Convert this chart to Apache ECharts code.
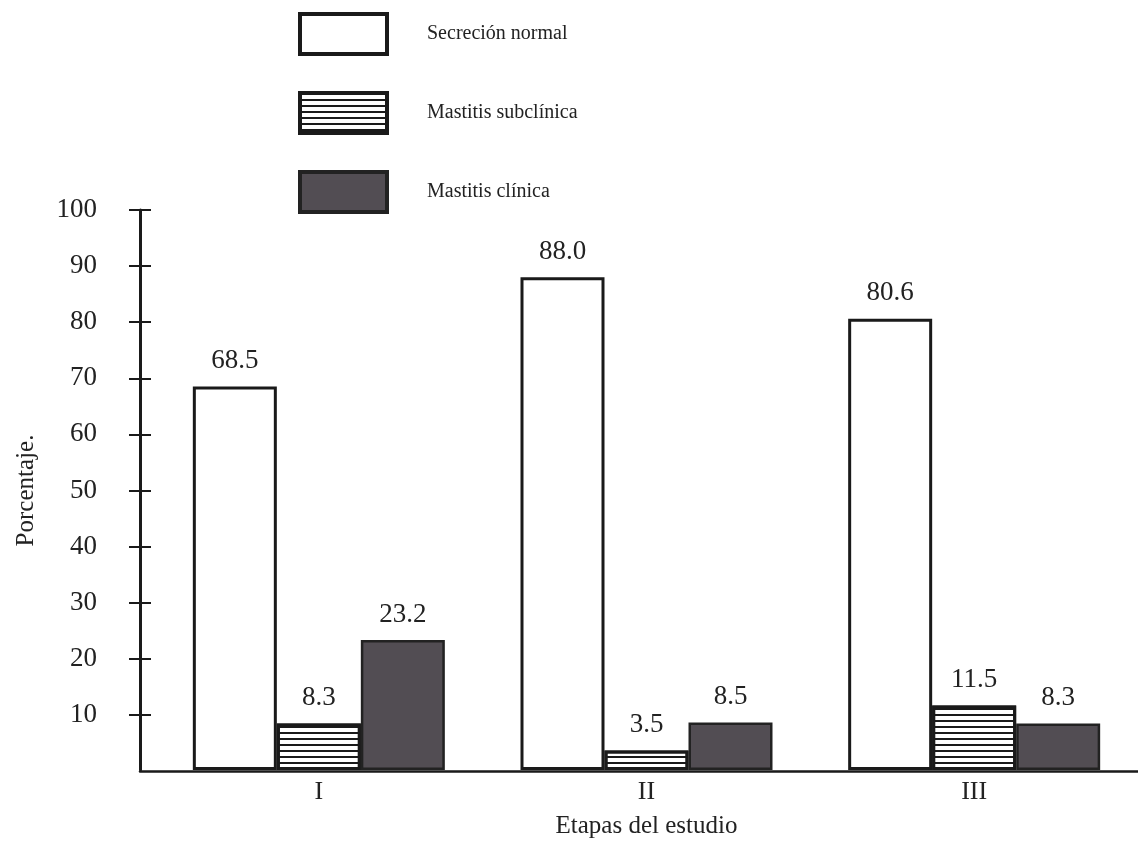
<!DOCTYPE html>
<html><head><meta charset="utf-8">
<script src="https://cdn.jsdelivr.net/npm/echarts@6/dist/echarts.min.js"></script>
<style>html,body{margin:0;padding:0;background:#fff}#c{width:1138px;height:844px}</style>
</head><body><div id="c"></div>
<script>
const categories = ['I', 'II', 'III'];
const normal = [68.5, 88.0, 80.6];
const subclinica = [8.3, 3.5, 11.5];
const clinica = [23.2, 8.5, 8.3];
const yTicks = [0, 10, 20, 30, 40, 50, 60, 70, 80, 90, 100];
const seriesNames = ['Secreción normal', 'Mastitis subclínica', 'Mastitis clínica'];

const FONT = 'Liberation Serif';
const INK = '#1a1a1a';
const chart = echarts.init(document.getElementById('c'));
const label = {show: true, position: 'top', distance: 12, fontFamily: FONT, fontSize: 27, color: '#222', formatter: p => p.value.toFixed(1)};
const yMin = yTicks[0], yMax = yTicks[yTicks.length - 1];
chart.setOption({
  animation: false,
  backgroundColor: '#fff',
  textStyle: {fontFamily: FONT},
  legend: {
    orient: 'vertical', left: 298, top: 12, padding: 0, itemWidth: 87, itemHeight: 40, itemGap: 35, icon: 'rect',
    itemStyle: {borderWidth: 4},
    textStyle: {fontFamily: FONT, fontSize: 20, color: '#222', padding: [0, 0, 0, 35]},
    data: seriesNames
  },
  grid: [
    {left: 155, right: -16, top: 210, bottom: 73},
    {left: 140, right: 0, top: 210, bottom: 73}
  ],
  xAxis: [{
    gridIndex: 0, type: 'category', data: categories,
    name: 'Etapas del estudio', nameLocation: 'middle', nameGap: 44,
    nameTextStyle: {fontFamily: FONT, fontSize: 25, color: '#222'},
    axisLine: {show: false},
    axisTick: {show: false},
    axisLabel: {fontFamily: FONT, fontSize: 26, color: '#222', margin: 9}
  }, {
    gridIndex: 1, type: 'value', min: 0, max: 1,
    axisLine: {show: true, lineStyle: {color: INK, width: 2.5}},
    axisTick: {show: false}, axisLabel: {show: false}, splitLine: {show: false}
  }],
  yAxis: [{
    gridIndex: 0, type: 'value', min: yMin, max: yMax, interval: 10, offset: 15,
    axisLine: {show: true, lineStyle: {color: INK, width: 3}},
    axisTick: {show: false}, axisLabel: {show: false}, splitLine: {show: false}
  }, {
    gridIndex: 1, type: 'value', min: yMin, max: yMax, interval: 10, offset: -11,
    name: 'Porcentaje.', nameLocation: 'middle', nameGap: 112, nameRotate: 90,
    nameTextStyle: {fontFamily: FONT, fontSize: 25, color: '#222'},
    axisLine: {show: false},
    axisTick: {show: true, length: 22, lineStyle: {color: INK, width: 2}, customValues: yTicks.slice(1)},
    splitLine: {show: false},
    axisLabel: {fontFamily: FONT, fontSize: 27, color: '#222', margin: 54, customValues: yTicks.slice(1)}
  }],
  series: [
    {name: seriesNames[0], type: 'bar', data: normal, barWidth: 84, barGap: '0%',
     xAxisIndex: 0, yAxisIndex: 0,
     itemStyle: {color: '#fff', borderColor: INK, borderWidth: 3}, label: label},
    {name: seriesNames[1], type: 'bar', data: subclinica, barWidth: 84, barGap: '0%',
     xAxisIndex: 0, yAxisIndex: 0,
     itemStyle: {color: '#fff', borderColor: INK, borderWidth: 3,
       decal: {symbol: 'rect', symbolSize: 1, color: INK, dashArrayX: [1, 0], dashArrayY: [2, 4], rotation: 0}},
     label: label},
    {name: seriesNames[2], type: 'bar', data: clinica, barWidth: 84, barGap: '0%',
     xAxisIndex: 0, yAxisIndex: 0,
     itemStyle: {color: '#524d53', borderColor: '#222', borderWidth: 2.5}, label: label}
  ]
});
</script></body></html>
